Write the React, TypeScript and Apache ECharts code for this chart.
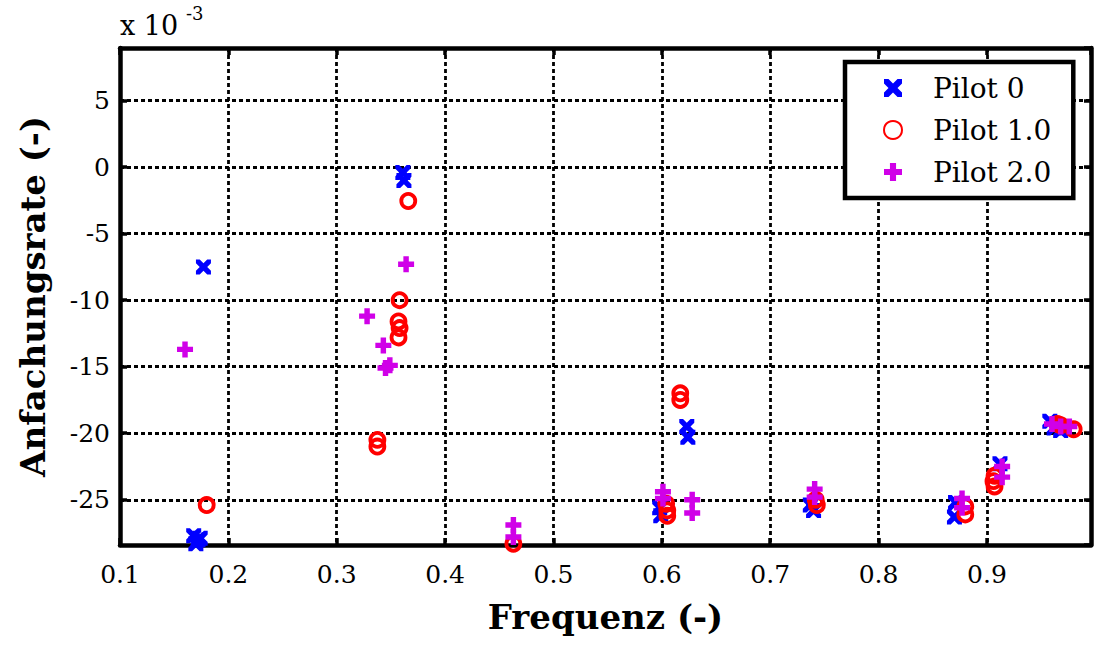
import React, { useEffect, useRef } from "react";
import * as echarts from "echarts";

const seriesNames = ["Pilot 0", "Pilot 1.0", "Pilot 2.0"];

const pilot0: [number, number][] = [
  [0.177, -7.5], [0.361, -0.4], [0.362, -1.0],
  [0.168, -27.7], [0.172, -28.0], [0.170, -28.3], [0.174, -27.9],
  [0.623, -19.5], [0.624, -20.3],
  [0.598, -25.6], [0.599, -26.2],
  [0.737, -25.4], [0.740, -25.8],
  [0.871, -25.2], [0.870, -26.3],
  [0.912, -22.3],
  [0.958, -19.1], [0.962, -19.6], [0.968, -19.8],
];

const pilot1: [number, number][] = [
  [0.366, -2.55], [0.358, -10.0], [0.357, -11.6], [0.358, -12.1], [0.357, -12.8],
  [0.3375, -20.5], [0.3375, -21.0],
  [0.180, -25.4], [0.463, -28.3],
  [0.617, -17.0], [0.617, -17.5],
  [0.604, -25.3], [0.605, -25.8], [0.605, -26.2],
  [0.742, -25.0], [0.743, -25.4],
  [0.880, -25.5], [0.880, -26.1],
  [0.907, -23.2], [0.906, -23.6], [0.907, -24.0],
  [0.965, -19.3], [0.968, -19.4], [0.980, -19.7],
];

const pilot2: [number, number][] = [
  [0.160, -13.7], [0.364, -7.3], [0.328, -11.2], [0.343, -13.4],
  [0.345, -15.1], [0.349, -14.9],
  [0.463, -26.9], [0.463, -27.8],
  [0.601, -24.4], [0.601, -24.9], [0.628, -25.0], [0.628, -26.0],
  [0.741, -24.2], [0.741, -24.8],
  [0.877, -24.9], [0.877, -25.6],
  [0.914, -22.5], [0.914, -23.3],
  [0.960, -19.3], [0.968, -19.5], [0.976, -19.5],
];

const xMin = 0.1;
const xMax = 0.996;
const xStep = 0.1;
const yMin = -28.4;
const yMax = 8.95;
const yStep = 5;

const FONT = "DejaVu Serif";
const X_PATH =
  "path://M0,0 L2.5,0 L5,2.5 L7.5,0 L10,0 L10,2.5 L7.5,5 L10,7.5 L10,10 L7.5,10 L5,7.5 L2.5,10 L0,10 L0,7.5 L2.5,5 L0,2.5 Z";
const PLUS_PATH =
  "path://M3.3,0 H6.7 V3.3 H10 V6.7 H6.7 V10 H3.3 V6.7 H0 V3.3 H3.3 Z";

export default function App() {
  const ref = useRef<HTMLDivElement>(null);

  useEffect(() => {
    if (!ref.current) return;
    const chart = echarts.init(ref.current, null, { renderer: "svg" });

    const gridLine = { show: true, lineStyle: { color: "#000", width: 2.8, type: [4, 3] as any } };
    const axisLine = { show: true, onZero: false, lineStyle: { color: "#000", width: 4.5 } };
    const axisTick = { show: true, inside: true, length: 7, lineStyle: { color: "#000", width: 3.5 } };

    chart.setOption({
      animation: false,
      backgroundColor: "#fff",
      grid: { left: 120, right: 3, top: 48, bottom: 103, containLabel: false },
      graphic: [
        {
          type: "text",
          left: 120,
          top: 12,
          style: { text: "x 10", fontFamily: FONT, fontSize: 27, fill: "#000" },
        },
        {
          type: "text",
          left: 186,
          top: 4,
          style: { text: "-3", fontFamily: FONT, fontSize: 18, fill: "#000" },
        },
      ],
      legend: {
        data: seriesNames,
        orient: "vertical",
        left: 845,
        top: 62,
        padding: [9, 22, 9, 38],
        itemGap: 8,
        itemWidth: 18,
        itemHeight: 18,
        backgroundColor: "#fff",
        borderColor: "#000",
        borderWidth: 4.5,
        selectedMode: false,
        textStyle: { fontFamily: FONT, fontSize: 28, color: "#000", lineHeight: 34, padding: [0, 0, 0, 26] },
      },
      xAxis: [
        {
          type: "value",
          min: xMin,
          max: xMax,
          interval: xStep,
          position: "bottom",
          name: "Frequenz (-)",
          nameLocation: "middle",
          nameGap: 55,
          nameTextStyle: { fontFamily: FONT, fontSize: 34, fontWeight: "bold", color: "#000" },
          axisLine,
          axisTick,
          splitLine: gridLine,
          axisLabel: {
            show: true,
            margin: 17,
            showMaxLabel: false,
            fontFamily: FONT,
            fontSize: 25,
            color: "#000",
            formatter: (v: number) => v.toFixed(1),
          },
        },
        {
          type: "value",
          min: xMin,
          max: xMax,
          interval: xStep,
          position: "top",
          axisLine,
          axisTick,
          splitLine: { show: false },
          axisLabel: { show: false },
        },
      ],
      yAxis: [
        {
          type: "value",
          min: yMin,
          max: yMax,
          splitNumber: 8,
          minInterval: yStep,
          maxInterval: yStep,
          position: "left",
          name: "Anfachungsrate (-)",
          nameLocation: "middle",
          nameGap: 70,
          nameTextStyle: { fontFamily: FONT, fontSize: 34, fontWeight: "bold", color: "#000" },
          axisLine,
          axisTick,
          splitLine: gridLine,
          axisLabel: {
            show: true,
            margin: 10,
            showMinLabel: false,
            showMaxLabel: false,
            fontFamily: FONT,
            fontSize: 25,
            color: "#000",
            formatter: (v: number) => String(Math.round(v)),
          },
        },
        {
          type: "value",
          min: yMin,
          max: yMax,
          splitNumber: 8,
          minInterval: yStep,
          maxInterval: yStep,
          position: "right",
          axisLine,
          axisTick,
          splitLine: { show: false },
          axisLabel: { show: false },
        },
      ],
      series: [
        {
          name: seriesNames[0],
          type: "scatter",
          data: pilot0,
          symbol: X_PATH,
          symbolSize: 15,
          itemStyle: { color: "#0000ff", opacity: 1 },
          z: 3,
        },
        {
          name: seriesNames[1],
          type: "scatter",
          data: pilot1,
          symbol: "circle",
          symbolSize: 14,
          itemStyle: { color: "rgba(255,255,255,0)", borderColor: "#ff0000", borderWidth: 3.8, opacity: 1 },
          z: 4,
        },
        {
          name: seriesNames[2],
          type: "scatter",
          data: pilot2,
          symbol: PLUS_PATH,
          symbolSize: 16,
          itemStyle: { color: "#d000e8", opacity: 1 },
          z: 5,
        },
      ],
    });

    return () => chart.dispose();
  }, []);

  return (
    <div
      ref={ref}
      style={{ position: "fixed", left: 0, top: 0, width: 1094, height: 648, background: "#fff" }}
    />
  );
}
